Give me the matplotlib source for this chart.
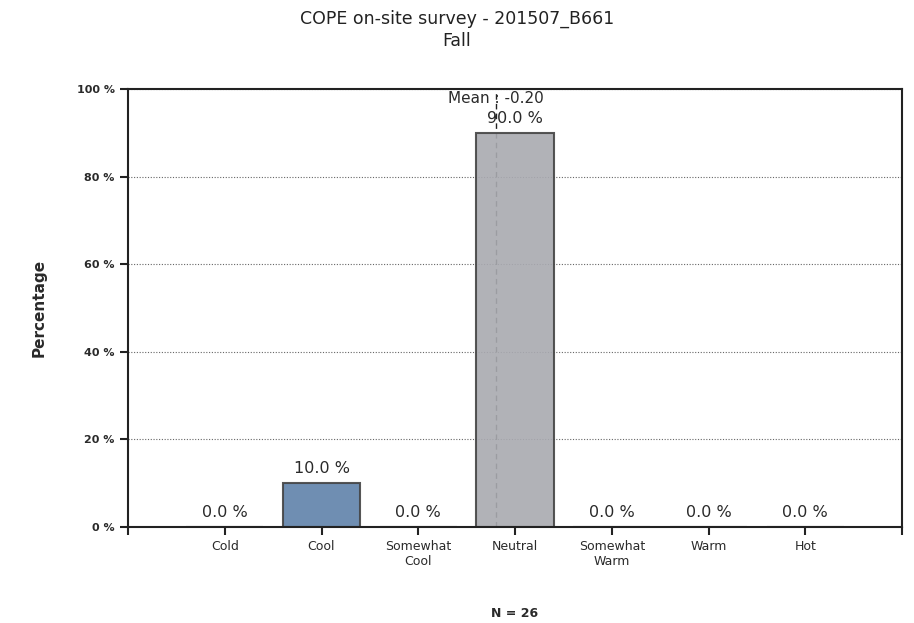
import numpy as np
from matplotlib import pyplot as plt

categories = ["Cold", "Cool", "Somewhat\nCool", "Neutral", "Somewhat\nWarm", "Warm", "Hot"]
percentages = [0.0, 10.0, 0.0, 90.0, 0.0, 0.0, 0.0]
bar_colors = ["#5f82aa", "#5f82aa", "#5f82aa", "#a9aab0", "#a9aab0", "#a9aab0", "#a9aab0"]
mean_vote = -0.20
n_responses = 26
title = "COPE on-site survey - 201507_B661\nFall"

plt.rcParams["font.family"] = ["DejaVu Sans"]
text_color = "#2a2a2a"

fig = plt.figure(figsize=(9.14, 6.23), dpi=100)
ax = fig.add_axes([128 / 914, 1 - 527 / 623, (902 - 128) / 914, (527 - 89) / 623])

x = np.arange(len(categories))
# mean sits on the scale Cold=-3 ... Hot=3, Neutral at index 3
mean_x = 3 + mean_vote

ax.axvline(mean_x, color="#222222", linestyle=(0, (4, 3)), linewidth=1, zorder=1)
ax.bar(x, percentages, width=0.8, color=bar_colors, edgecolor="#444444",
       linewidth=1.5, alpha=0.9, zorder=2)

for xi, p in zip(x, percentages):
    ax.annotate(f"{p:.1f} %", (xi, p), xytext=(0, 5), textcoords="offset points",
                ha="center", va="bottom", fontsize=11.5, color=text_color)

ax.text(mean_x, 99.6, f"Mean : {mean_vote:.2f}", ha="center", va="top",
        fontsize=11, color=text_color, zorder=3)

ax.set_xlim(-1, 7)
ax.set_ylim(0, 100)
ax.set_yticks(np.arange(0, 101, 20))
ax.set_yticklabels([f"{v} %" for v in range(0, 101, 20)], fontsize=8,
                   color=text_color, fontweight="bold")
ax.set_xticks(np.arange(-1, 8))
ax.set_xticklabels([""] + categories + [""], fontsize=9, color=text_color)
ax.tick_params(axis="both", direction="out", length=6, width=1.5, color="#222222")

for s in ax.spines.values():
    s.set_linewidth(1.5)
    s.set_color("#222222")

ax.grid(axis="y", linestyle=(0, (1, 1.5)), color="#666666", linewidth=0.8, zorder=0)
ax.set_axisbelow(True)

ax.set_ylabel("Percentage", fontsize=11, fontweight="bold", color=text_color, labelpad=22)
ax.set_xlabel(f"N = {n_responses}", fontsize=9, fontweight="bold", color=text_color, labelpad=28)

fig.suptitle(title, y=0.985, fontsize=12.5, color="#222222", linespacing=1.3)

fig.savefig("out.png", dpi=100)
